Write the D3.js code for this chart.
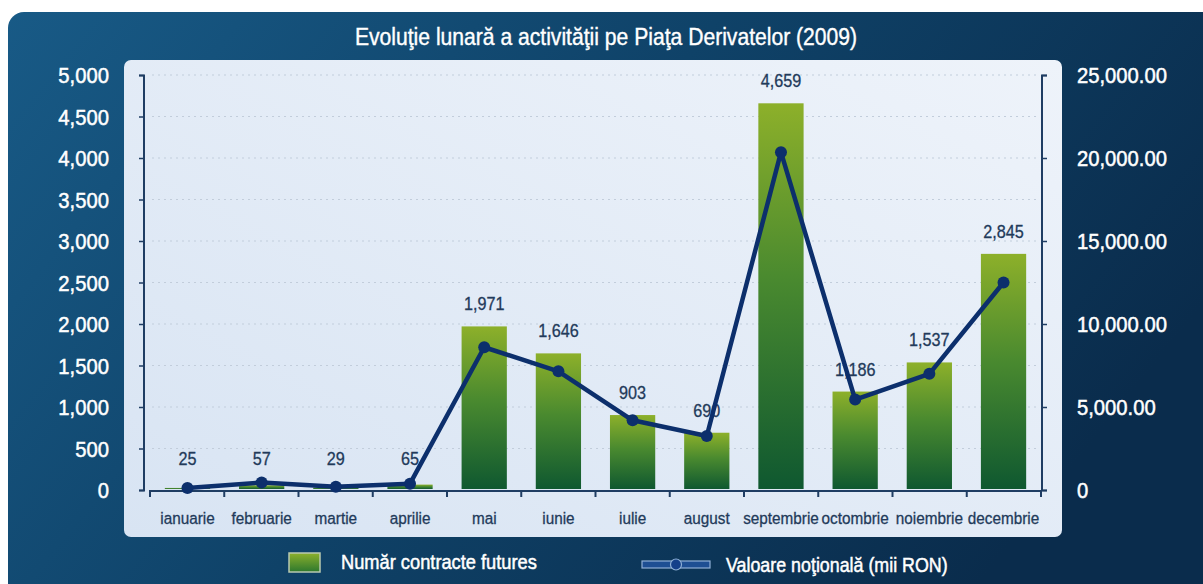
<!DOCTYPE html>
<html>
<head>
<meta charset="utf-8">
<script src="https://cdn.jsdelivr.net/npm/d3@7"></script>
<style>
  body { margin: 0; background: #fff; }
  svg text { font-family: "Liberation Sans", Arial, sans-serif; }
</style>
</head>
<body>
<div id="chart"></div>
<script>
// data
const months = ["ianuarie", "februarie", "martie", "aprilie", "mai", "iunie", "iulie",
    "august", "septembrie", "octombrie", "noiembrie", "decembrie"];
const contracts = [25, 57, 29, 65, 1971, 1646, 903, 690, 4659, 1186, 1537, 2845];
const notional = [120, 450, 200, 380, 8600, 7150, 4200, 3250, 20350, 5450, 7000, 12500];
const leftTicks = [0, 500, 1000, 1500, 2000, 2500, 3000, 3500, 4000, 4500, 5000];
const rightTicks = [0, 5000, 10000, 15000, 20000, 25000];

const W = 1203, H = 584;
const svg = d3.select("#chart").append("svg")
    .attr("width", W).attr("height", H);

// no narrow font installed, so squeeze the text horizontally
function condense(sel, s) {
    sel.each(function () {
        const t = d3.select(this);
        const tx = +t.attr("x") || 0, ty = +t.attr("y") || 0;
        t.attr("x", 0).attr("y", 0)
            .attr("transform", "translate(" + tx + "," + ty + ") scale(" + s + ",1)");
    });
}

const defs = svg.append("defs");

// background gradient
const bg = defs.append("linearGradient").attr("id", "bg")
    .attr("x1", "0").attr("y1", "0").attr("x2", "1").attr("y2", "0.4");
bg.append("stop").attr("offset", "0").attr("stop-color", "#185a86");
bg.append("stop").attr("offset", "0.5").attr("stop-color", "#0f4268");
bg.append("stop").attr("offset", "1").attr("stop-color", "#0a2c4c");

const panel = defs.append("linearGradient").attr("id", "panel")
    .attr("x1", "0").attr("y1", "1").attr("x2", "1").attr("y2", "0");
panel.append("stop").attr("offset", "0").attr("stop-color", "#d8e4f3");
panel.append("stop").attr("offset", "1").attr("stop-color", "#eef3fa");

const barGrad = defs.append("linearGradient").attr("id", "bar")
    .attr("x1", "0").attr("y1", "0").attr("x2", "0").attr("y2", "1");
barGrad.append("stop").attr("offset", "0").attr("stop-color", "#8db02a");
barGrad.append("stop").attr("offset", "0.45").attr("stop-color", "#4a8a2f");
barGrad.append("stop").attr("offset", "1").attr("stop-color", "#0f5830");

const legGrad = defs.append("linearGradient").attr("id", "leg")
    .attr("x1", "0").attr("y1", "0").attr("x2", "0").attr("y2", "1");
legGrad.append("stop").attr("offset", "0").attr("stop-color", "#8cb02c");
legGrad.append("stop").attr("offset", "1").attr("stop-color", "#2d782e");

// dark blue frame
svg.append("rect")
    .attr("x", 8).attr("y", 12).attr("width", W + 30).attr("height", H + 30)
    .attr("rx", 16).attr("fill", "url(#bg)");

// title
svg.append("text")
    .attr("x", 606).attr("y", 45)
    .attr("text-anchor", "middle")
    .attr("fill", "#fff")
    .attr("stroke", "#fff").attr("stroke-width", 0.4)
    .style("font-size", "24px")
    .text("Evoluţie lunară a activităţii pe Piaţa Derivatelor (2009)")
    .call(condense, 0.88);

// light plot panel
svg.append("rect")
    .attr("x", 124).attr("y", 60).attr("width", 938).attr("height", 477)
    .attr("rx", 7).attr("fill", "url(#panel)");

// scales
const x = d3.scaleBand().domain(months).range([150, 1041]).paddingInner(0.39).paddingOuter(0.2);
const xPoint = d => x(d) + x.bandwidth() / 2;
const yL = d3.scaleLinear().domain([0, 5000]).range([490, 75]);
const yR = d3.scaleLinear().domain([0, 25000]).range([490, 75]);

// gridlines
svg.append("g").selectAll("line")
    .data(leftTicks.filter(d => d > 0))
    .join("line")
    .attr("x1", 152).attr("x2", 1036)
    .attr("y1", d => yL(d)).attr("y2", d => yL(d))
    .attr("stroke", "#c2cddb")
    .attr("stroke-width", 1.2)
    .attr("stroke-dasharray", "2,4");

// bars
svg.append("g").selectAll("rect")
    .data(contracts)
    .join("rect")
    .attr("x", (d, i) => x(months[i]))
    .attr("y", d => yL(d))
    .attr("width", x.bandwidth())
    .attr("height", d => yL(0) - yL(d) - 1)
    .attr("fill", "url(#bar)");

// bar labels
svg.append("g").selectAll("text")
    .data(contracts)
    .join("text")
    .attr("x", (d, i) => xPoint(months[i]))
    .attr("y", d => Math.min(yL(d) - 16, yL(0) - 25))
    .attr("text-anchor", "middle")
    .attr("fill", "#223a5a")
    .attr("stroke", "#223a5a").attr("stroke-width", 0.3)
    .style("font-size", "18px")
    .text(d => d3.format(",")(d))
    .call(condense, 0.9);

// axes
const axisColor = "#1f3d63";
const leftAxis = svg.append("g")
    .attr("transform", "translate(144,0)")
    .call(d3.axisLeft(yL).tickValues(leftTicks).tickSize(5).tickFormat(""));
const rightAxis = svg.append("g")
    .attr("transform", "translate(1042,0)")
    .call(d3.axisRight(yR).tickValues(rightTicks).tickSize(5).tickFormat(""));
const bottomAxis = svg.append("g")
    .attr("transform", "translate(0,491)")
    .call(d3.axisBottom(x).tickSize(0).tickPadding(18));
[leftAxis, rightAxis, bottomAxis].forEach(a => {
    a.select(".domain").attr("stroke", axisColor).attr("stroke-width", 2);
    a.selectAll(".tick line").attr("stroke", axisColor).attr("stroke-width", 1.5);
});
leftAxis.select(".domain").attr("d", "M-5,75.5H0V490.5H-5");
rightAxis.select(".domain").attr("d", "M5,75.5H0V490.5H5");
bottomAxis.select(".domain").attr("d", "M150,6V0H1041V6");
bottomAxis.selectAll(".tick text")
    .attr("fill", "#223a5a")
    .attr("stroke", "#223a5a").attr("stroke-width", 0.3)
    .attr("dy", null)
    .attr("y", 33)
    .style("font-size", "17px")
    .style("font-family", null)
    .call(condense, 0.9);

// x ticks between bands
svg.append("g").selectAll("line")
    .data(d3.range(months.length + 1))
    .join("line")
    .attr("x1", i => 150 + i * (891 / months.length))
    .attr("x2", i => 150 + i * (891 / months.length))
    .attr("y1", 491).attr("y2", 497)
    .attr("stroke", axisColor).attr("stroke-width", 2);

// tick labels outside panel
svg.append("g").selectAll("text")
    .data(leftTicks)
    .join("text")
    .attr("x", 109).attr("y", d => yL(d) + 8)
    .attr("text-anchor", "end")
    .attr("fill", "#fff")
    .attr("stroke", "#fff").attr("stroke-width", 0.5)
    .style("font-size", "22px")
    .text(d => d3.format(",")(d))
    .call(condense, 0.92);

svg.append("g").selectAll("text")
    .data(rightTicks)
    .join("text")
    .attr("x", 1077).attr("y", d => yR(d) + 8)
    .attr("fill", "#fff")
    .attr("stroke", "#fff").attr("stroke-width", 0.5)
    .style("font-size", "22px")
    .text(d => d === 0 ? "0" : d3.format(",.2f")(d))
    .call(condense, 0.92);

// line
const line = d3.line()
    .x((d, i) => xPoint(months[i]))
    .y(d => yR(d));
svg.append("path")
    .datum(notional)
    .attr("d", line)
    .attr("fill", "none")
    .attr("stroke", "#0c2f6c")
    .attr("stroke-width", 4.5)
    .attr("stroke-linejoin", "round");
svg.append("g").selectAll("circle")
    .data(notional)
    .join("circle")
    .attr("cx", (d, i) => xPoint(months[i]))
    .attr("cy", d => yR(d))
    .attr("r", 6)
    .attr("fill", "#0c2f6c");

// legend
svg.append("rect")
    .attr("x", 289).attr("y", 553).attr("width", 31).attr("height", 19)
    .attr("fill", "url(#leg)")
    .attr("stroke", "#b9c9b0").attr("stroke-width", 1.5);
svg.append("text")
    .attr("x", 341).attr("y", 569)
    .attr("fill", "#fff")
    .attr("stroke", "#fff").attr("stroke-width", 0.5)
    .style("font-size", "21px")
    .text("Număr contracte futures")
    .call(condense, 0.87);

const lg = svg.append("g");
lg.append("rect")
    .attr("x", 642).attr("y", 561).attr("width", 68).attr("height", 7)
    .attr("fill", "#1e4f93").attr("stroke", "#8fb0d6").attr("stroke-width", 1.2);
lg.append("circle")
    .attr("cx", 676).attr("cy", 564.5).attr("r", 5.5)
    .attr("fill", "#14408a").attr("stroke", "#8fb0d6").attr("stroke-width", 1.2);
svg.append("text")
    .attr("x", 726).attr("y", 572)
    .attr("fill", "#fff")
    .attr("stroke", "#fff").attr("stroke-width", 0.5)
    .style("font-size", "21px")
    .text("Valoare noţională (mii RON)")
    .call(condense, 0.85);
</script>
</body>
</html>
